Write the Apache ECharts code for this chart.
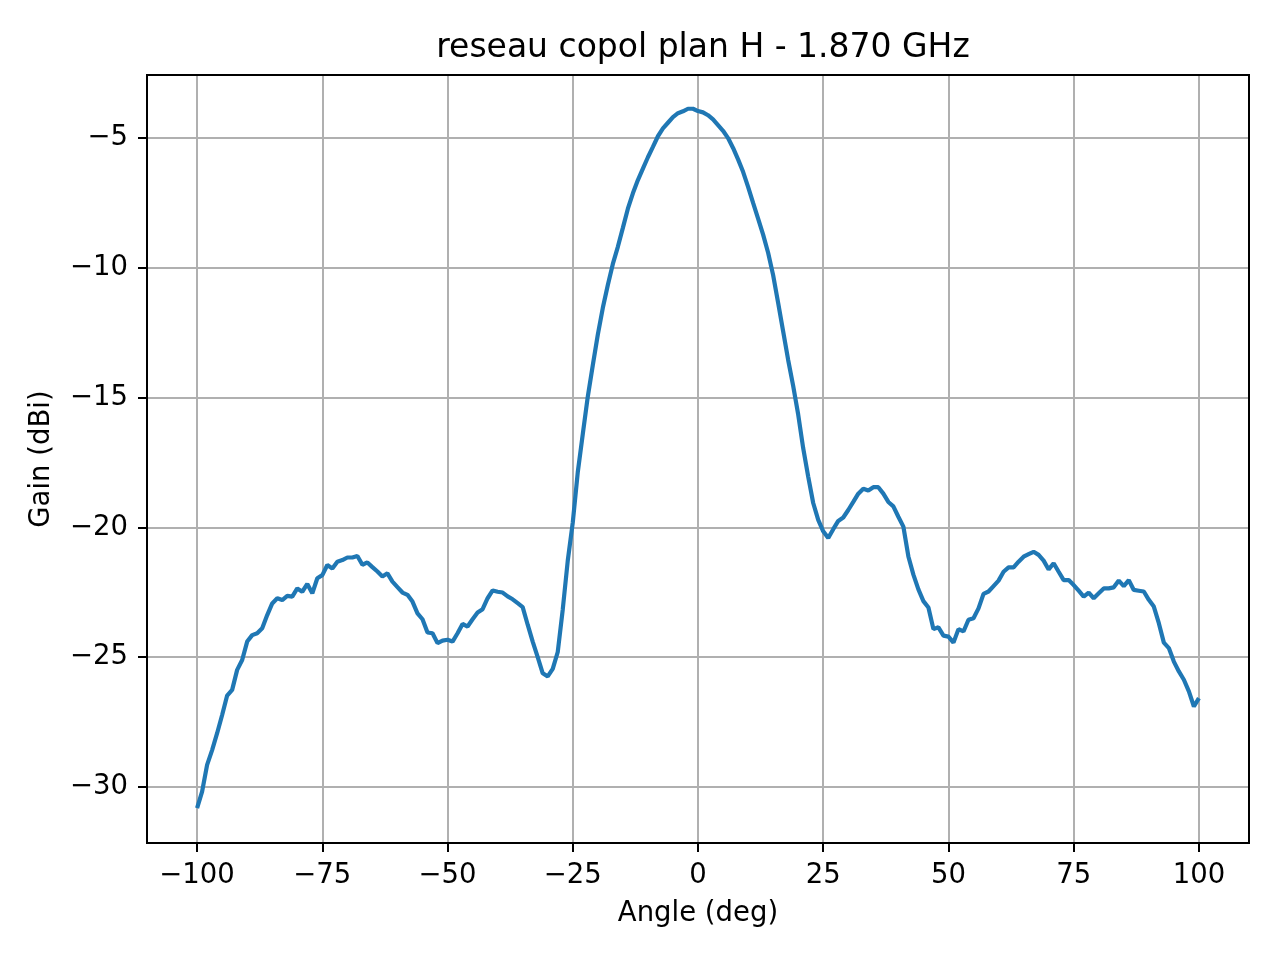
<!DOCTYPE html>
<html>
<head>
<meta charset="utf-8">
<script src="https://cdn.jsdelivr.net/npm/echarts@6/dist/echarts.min.js"></script>
<style>
    html, body { margin: 0; padding: 0; background: #fff; }
    #chart { width: 1280px; height: 960px; }
</style>
</head>
<body>
<div id="chart"></div>
<script>
// angle grid: one sample per degree
var ANGLE_START = -100;
var ANGLE_STEP = 1;

// gain (dBi)
// -100 .. -29 deg
var gainLeft = [
    -30.82, -30.18, -29.15, -28.58, -27.93, -27.23, -26.48, -26.26, -25.49, -25.11,
    -24.40, -24.15, -24.08, -23.89, -23.38, -22.93, -22.73, -22.80, -22.64, -22.67,
    -22.35, -22.48, -22.18, -22.54, -21.96, -21.84, -21.45, -21.58, -21.32, -21.26,
    -21.16, -21.16, -21.10, -21.44, -21.35, -21.53, -21.70, -21.89, -21.77, -22.09,
    -22.30, -22.51, -22.60, -22.86, -23.31, -23.54, -24.05, -24.08, -24.46, -24.36,
    -24.33, -24.40, -24.08, -23.72, -23.82, -23.54, -23.28, -23.15, -22.73, -22.43,
    -22.48, -22.51, -22.66, -22.77, -22.92, -23.07, -23.75, -24.40, -25.00, -25.62,
    -25.74, -25.45
];
// -28 .. 30 deg
var gainMain = [
    -24.80, -23.16, -21.28, -19.81, -17.87, -16.40, -14.96, -13.75, -12.57, -11.54,
    -10.66, -9.85, -9.19, -8.46, -7.72, -7.13, -6.62, -6.18, -5.74, -5.34,
    -4.93, -4.63, -4.41, -4.19, -4.04, -3.97, -3.87, -3.87,
    -3.96, -4.01, -4.12, -4.28, -4.50, -4.72, -5.00, -5.38, -5.82, -6.30,
    -6.88, -7.50, -8.10, -8.72, -9.42, -10.28, -11.35, -12.45, -13.55, -14.55,
    -15.65, -16.95, -18.04, -19.06, -19.71, -20.15, -20.41, -20.07, -19.75, -19.62,
    -19.33
];
// 31 .. 100 deg
var gainRight = [
    -19.02, -18.70, -18.51, -18.58, -18.45, -18.45, -18.70, -19.02, -19.19,
    -19.59, -19.97, -21.12, -21.82, -22.39, -22.84, -23.09, -23.92, -23.85, -24.17,
    -24.21, -24.44, -23.92, -24.01, -23.56, -23.50, -23.12, -22.56, -22.47, -22.26,
    -22.05, -21.71, -21.54, -21.54, -21.32, -21.13, -21.03, -20.94, -21.06, -21.28,
    -21.62, -21.38, -21.71, -22.03, -22.03, -22.22, -22.44, -22.67, -22.51, -22.73,
    -22.54, -22.35, -22.35, -22.31, -22.05, -22.26, -22.03, -22.41, -22.44, -22.47,
    -22.79, -23.05, -23.69, -24.44, -24.65, -25.17, -25.55, -25.87, -26.32, -26.90,
    -26.58
];

var xTicks = [-100, -75, -50, -25, 0, 25, 50, 75, 100];
var yTicks = [-30, -25, -20, -15, -10, -5];

var gain = gainLeft.concat(gainMain).concat(gainRight);
var points = [];
for (var i = 0; i < gain.length; i++) {
    points.push([ANGLE_START + i * ANGLE_STEP, gain[i]]);
}

function fmt(v) {
    return String(v).replace("-", "\u2212");
}

var FONT = "DejaVu Sans";
var chart = echarts.init(document.getElementById("chart"), null, {renderer: "canvas"});
chart.setOption({
    animation: false,
    backgroundColor: "#fff",
    title: {
        text: "reseau copol plan H - 1.870 GHz",
        left: 698,
        textAlign: "center",
        top: 27,
        textStyle: {fontFamily: FONT, fontSize: 33, fontWeight: "normal", color: "#000"}
    },
    grid: {left: 147, right: 31, top: 75, bottom: 117, containLabel: false},
    xAxis: {
        type: "value",
        min: -110,
        max: 110,
        name: "Angle (deg)",
        nameLocation: "middle",
        nameGap: 57,
        nameTextStyle: {fontFamily: FONT, fontSize: 27.5, color: "#000"},
        axisLine: {show: true, onZero: false, lineStyle: {color: "#000", width: 2}},
        axisTick: {show: true, inside: false, length: 9, customValues: xTicks, lineStyle: {color: "#000", width: 2}},
        axisLabel: {customValues: xTicks, margin: 19, fontFamily: FONT, fontSize: 27.5, color: "#000", formatter: fmt},
        splitLine: {show: true, lineStyle: {color: "#b0b0b0", width: 2}}
    },
    yAxis: {
        type: "value",
        min: -32.16,
        max: -2.57,
        name: "Gain (dBi)",
        nameLocation: "middle",
        nameGap: 91,
        nameTextStyle: {fontFamily: FONT, fontSize: 27.5, color: "#000"},
        axisLine: {show: true, onZero: false, lineStyle: {color: "#000", width: 2}},
        axisTick: {show: true, inside: false, length: 9, customValues: yTicks, lineStyle: {color: "#000", width: 2}},
        axisLabel: {customValues: yTicks, margin: 19, fontFamily: FONT, fontSize: 27.5, color: "#000", formatter: fmt},
        splitLine: {show: true, lineStyle: {color: "#b0b0b0", width: 2}}
    },
    series: [{
        type: "line",
        data: points,
        showSymbol: false,
        symbol: "none",
        lineStyle: {color: "#1f77b4", width: 4.2},
        z: 3
    }]
});
// close the frame like the reference: top and right spines
chart.setOption({
    graphic: [{
        type: "rect",
        shape: {x: 147, y: 75, width: 1102, height: 768},
        style: {fill: "none", stroke: "#000", lineWidth: 2},
        silent: true,
        z: 10
    }]
});
</script>
</body>
</html>
